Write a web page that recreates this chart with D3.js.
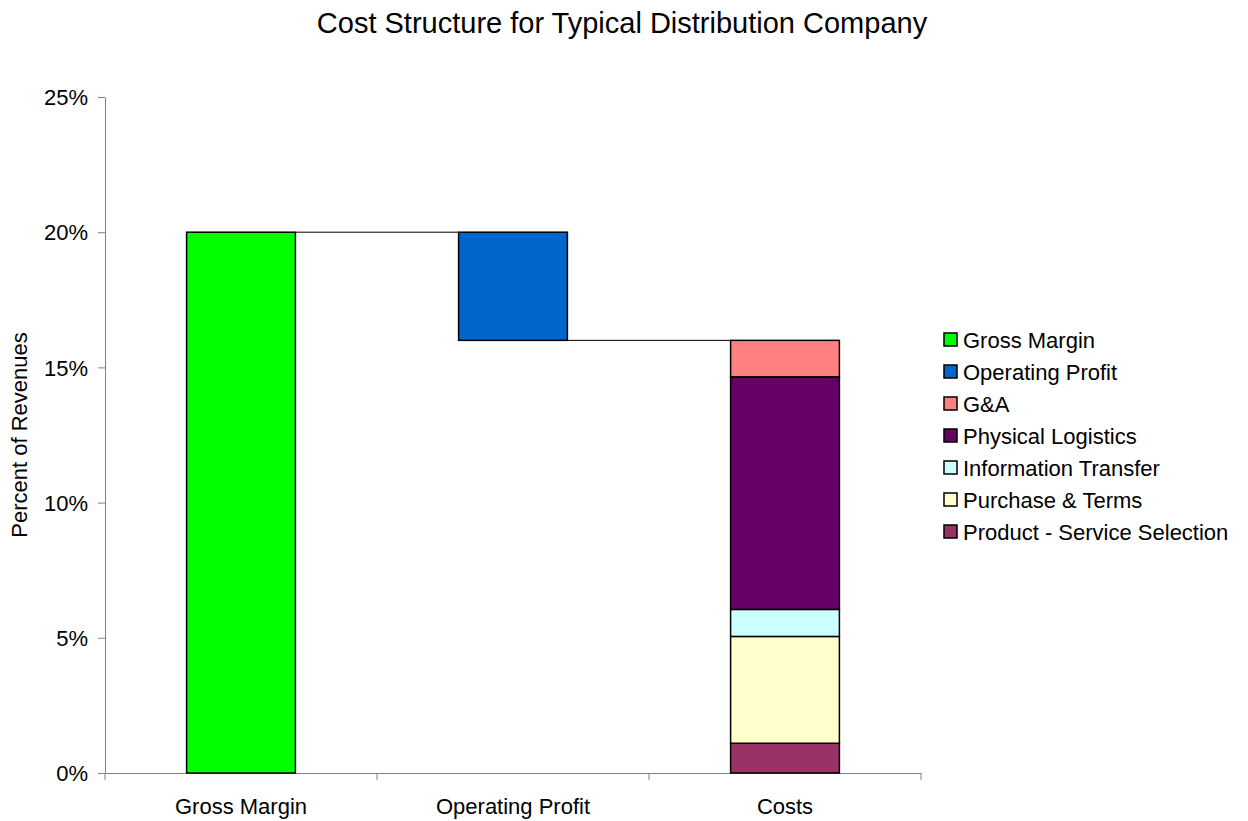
<!DOCTYPE html>
<html>
<head>
<meta charset="utf-8">
<script src="https://cdn.jsdelivr.net/npm/d3@7"></script>
<style>
  body { margin: 0; background: #fff; }
  text { font-family: "Liberation Sans", Arial, sans-serif; fill: #000; }
</style>
</head>
<body>
<svg id="chart" width="1248" height="821"></svg>
<script>
// chart data
const categories = ["Gross Margin", "Operating Profit", "Costs"];
const grossMargin = 20;
const operatingProfit = 4;           // drawn as floating bar from (gross - op) up to gross
const costKeys = ["Product - Service Selection", "Purchase & Terms", "Information Transfer", "Physical Logistics", "G&A"];
const costValues = [1.1, 3.95, 1.0, 8.6, 1.35];
const yTicks = [0, 5, 10, 15, 20, 25];
const legendOrder = ["Gross Margin", "Operating Profit", "G&A", "Physical Logistics", "Information Transfer", "Purchase & Terms", "Product - Service Selection"];

const colors = {
    "Gross Margin": "#00ff00",
    "Operating Profit": "#0066cc",
    "G&A": "#ff8080",
    "Physical Logistics": "#660066",
    "Information Transfer": "#ccffff",
    "Purchase & Terms": "#ffffcc",
    "Product - Service Selection": "#993366"
};

const margin = { top: 97, left: 105 };
const width = 816, height = 676;

const svg = d3.select("#chart");
const g = svg.append("g").attr("transform", "translate(" + margin.left + "," + margin.top + ")");

const x = d3.scaleBand().domain(categories).range([0, width]).paddingInner(0).paddingOuter(0);
const y = d3.scaleLinear().domain([0, 25]).range([height, 0]);
const barW = x.bandwidth() * 0.4;
const bx = c => x(c) + (x.bandwidth() - barW) / 2;

// title
svg.append("text")
    .attr("x", 622).attr("y", 33)
    .attr("text-anchor", "middle")
    .style("font-size", "29px")
    .text("Cost Structure for Typical Distribution Company");

// y axis
const yAxis = g.append("g")
    .call(d3.axisLeft(y).tickValues(yTicks).tickSize(7).tickSizeOuter(0).tickFormat(d => d + "%"));
yAxis.select(".domain").attr("stroke", "#808080");
yAxis.selectAll(".tick line").attr("stroke", "#808080");
yAxis.selectAll(".tick text").style("font-size", "22px").attr("x", -17).attr("dy", "0.35em");

// x axis
const xAxis = g.append("g")
    .attr("transform", "translate(0," + height + ")")
    .call(d3.axisBottom(x).tickSize(0).tickSizeOuter(0));
xAxis.select(".domain").attr("stroke", "#808080");
xAxis.selectAll(".tick text").style("font-size", "22px").attr("y", 25).attr("dy", "0.71em");
// category boundary ticks
g.selectAll(".xb").data(d3.range(categories.length + 1)).enter().append("line")
    .attr("x1", i => i * x.step()).attr("x2", i => i * x.step())
    .attr("y1", height).attr("y2", height + 7)
    .attr("stroke", "#808080");

// gross margin bar
g.append("rect")
    .attr("x", bx("Gross Margin")).attr("width", barW)
    .attr("y", y(grossMargin)).attr("height", y(0) - y(grossMargin))
    .attr("fill", colors["Gross Margin"]).attr("stroke", "#000").attr("stroke-width", 1.5);

// operating profit floating bar
const opBase = grossMargin - operatingProfit;
g.append("rect")
    .attr("x", bx("Operating Profit")).attr("width", barW)
    .attr("y", y(grossMargin)).attr("height", y(opBase) - y(grossMargin))
    .attr("fill", colors["Operating Profit"]).attr("stroke", "#000").attr("stroke-width", 1.5);

// stacked costs
const costRow = {};
costKeys.forEach((k, i) => costRow[k] = costValues[i]);
const stacked = d3.stack().keys(costKeys)([costRow]);
g.selectAll(".cost").data(stacked).enter().append("rect")
    .attr("class", "cost")
    .attr("x", bx("Costs")).attr("width", barW)
    .attr("y", d => y(d[0][1]))
    .attr("height", d => y(d[0][0]) - y(d[0][1]))
    .attr("fill", d => colors[d.key]).attr("stroke", "#000").attr("stroke-width", 1.5);

// connector lines
const costTotal = d3.sum(costValues);
g.append("line")
    .attr("x1", bx("Gross Margin") + barW).attr("x2", bx("Operating Profit"))
    .attr("y1", y(grossMargin)).attr("y2", y(grossMargin))
    .attr("stroke", "#000").attr("stroke-width", 1);
g.append("line")
    .attr("x1", bx("Operating Profit") + barW).attr("x2", bx("Costs"))
    .attr("y1", y(opBase)).attr("y2", y(costTotal))
    .attr("stroke", "#000").attr("stroke-width", 1);

// y label
svg.append("text")
    .attr("transform", "translate(27,435) rotate(-90)")
    .attr("text-anchor", "middle")
    .style("font-size", "22px")
    .text("Percent of Revenues");

// legend
const legend = svg.append("g").attr("transform", "translate(944,333)");
const li = legend.selectAll("g").data(legendOrder).enter().append("g")
    .attr("transform", (d, i) => "translate(0," + i * 32 + ")");
li.append("rect").attr("width", 13).attr("height", 13).attr("y", 0)
    .attr("fill", d => colors[d]).attr("stroke", "#000").attr("stroke-width", 1.5);
li.append("text").attr("x", 19).attr("y", 7).attr("dy", "0.35em")
    .style("font-size", "22px").text(d => d);
</script>
</body>
</html>
